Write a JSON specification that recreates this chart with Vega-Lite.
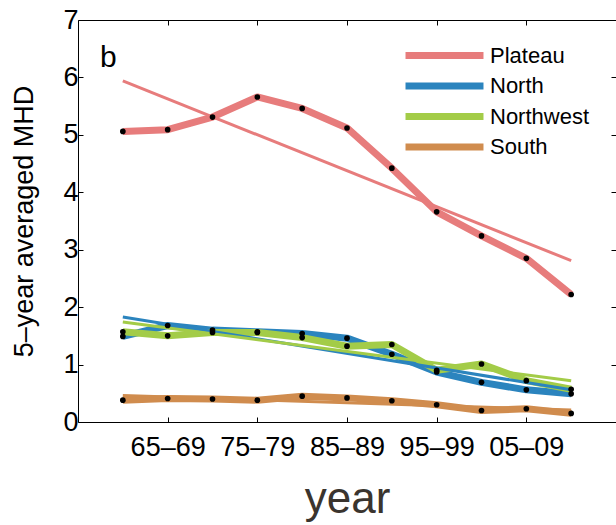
{
  "$schema": "https://vega.github.io/schema/vega-lite/v6.json",
  "width": 538,
  "height": 402,
  "autosize": {"type": "none"},
  "padding": {"left": 78, "top": 20, "right": 0, "bottom": 103},
  "background": "white",
  "config": {
    "view": {"stroke": null},
    "font": "Liberation Sans",
    "axis": {
      "domainColor": "black",
      "domainWidth": 1,
      "tickColor": "black",
      "tickSize": -5,
      "labelColor": "black",
      "labelFont": "Liberation Sans",
      "labelFontSize": 27,
      "grid": false
    }
  },
  "title": {
    "text": "b",
    "anchor": "start",
    "frame": "group",
    "orient": "top",
    "baseline": "alphabetic",
    "offset": -48,
    "dx": 22,
    "dy": 43,
    "fontSize": 30,
    "fontWeight": "normal",
    "font": "Liberation Sans",
    "color": "black"
  },
  "datasets": {
    "series": [
      {"period": "60–64", "region": "Plateau", "mhd": 5.06},
      {"period": "65–69", "region": "Plateau", "mhd": 5.09},
      {"period": "70–74", "region": "Plateau", "mhd": 5.31},
      {"period": "75–79", "region": "Plateau", "mhd": 5.66},
      {"period": "80–84", "region": "Plateau", "mhd": 5.46},
      {"period": "85–89", "region": "Plateau", "mhd": 5.12},
      {"period": "90–94", "region": "Plateau", "mhd": 4.42},
      {"period": "95–99", "region": "Plateau", "mhd": 3.66},
      {"period": "00–04", "region": "Plateau", "mhd": 3.24},
      {"period": "05–09", "region": "Plateau", "mhd": 2.85},
      {"period": "10–14", "region": "Plateau", "mhd": 2.22},
      {"period": "60–64", "region": "North", "mhd": 1.49},
      {"period": "65–69", "region": "North", "mhd": 1.68},
      {"period": "70–74", "region": "North", "mhd": 1.6},
      {"period": "75–79", "region": "North", "mhd": 1.57},
      {"period": "80–84", "region": "North", "mhd": 1.54},
      {"period": "85–89", "region": "North", "mhd": 1.46},
      {"period": "90–94", "region": "North", "mhd": 1.18},
      {"period": "95–99", "region": "North", "mhd": 0.87},
      {"period": "00–04", "region": "North", "mhd": 0.69},
      {"period": "05–09", "region": "North", "mhd": 0.56},
      {"period": "10–14", "region": "North", "mhd": 0.49},
      {"period": "60–64", "region": "Northwest", "mhd": 1.57},
      {"period": "65–69", "region": "Northwest", "mhd": 1.5},
      {"period": "70–74", "region": "Northwest", "mhd": 1.56},
      {"period": "75–79", "region": "Northwest", "mhd": 1.56},
      {"period": "80–84", "region": "Northwest", "mhd": 1.47},
      {"period": "85–89", "region": "Northwest", "mhd": 1.32},
      {"period": "90–94", "region": "Northwest", "mhd": 1.35},
      {"period": "95–99", "region": "Northwest", "mhd": 0.9},
      {"period": "00–04", "region": "Northwest", "mhd": 1.01},
      {"period": "05–09", "region": "Northwest", "mhd": 0.72},
      {"period": "10–14", "region": "Northwest", "mhd": 0.57},
      {"period": "60–64", "region": "South", "mhd": 0.38},
      {"period": "65–69", "region": "South", "mhd": 0.41},
      {"period": "70–74", "region": "South", "mhd": 0.4},
      {"period": "75–79", "region": "South", "mhd": 0.38},
      {"period": "80–84", "region": "South", "mhd": 0.45},
      {"period": "85–89", "region": "South", "mhd": 0.42},
      {"period": "90–94", "region": "South", "mhd": 0.37},
      {"period": "95–99", "region": "South", "mhd": 0.3},
      {"period": "00–04", "region": "South", "mhd": 0.2},
      {"period": "05–09", "region": "South", "mhd": 0.23},
      {"period": "10–14", "region": "South", "mhd": 0.15}
    ],
    "trend": [
      {"period": "60–64", "region": "Plateau", "mhd": 5.94},
      {"period": "10–14", "region": "Plateau", "mhd": 2.81},
      {"period": "60–64", "region": "North", "mhd": 1.83},
      {"period": "10–14", "region": "North", "mhd": 0.56},
      {"period": "60–64", "region": "Northwest", "mhd": 1.74},
      {"period": "10–14", "region": "Northwest", "mhd": 0.72},
      {"period": "60–64", "region": "South", "mhd": 0.46},
      {"period": "10–14", "region": "South", "mhd": 0.21}
    ]
  },
  "resolve": {"axis": {"x": "independent", "y": "independent"}},
  "layer": [
    {
      "data": {"name": "series"},
      "mark": {"type": "line", "strokeWidth": 7, "strokeJoin": "round"},
      "encoding": {
        "x": {
          "field": "period",
          "type": "ordinal",
          "scale": {
            "type": "point",
            "padding": 1,
            "domain": ["60–64", "65–69", "70–74", "75–79", "80–84", "85–89", "90–94", "95–99", "00–04", "05–09", "10–14"]
          },
          "axis": {
            "orient": "bottom",
            "values": ["65–69", "75–79", "85–89", "95–99", "05–09"],
            "labelAngle": 0,
            "labelPadding": 17,
            "title": "year",
            "titleFont": "Liberation Sans",
            "titleFontSize": 44,
            "titleFontWeight": "normal",
            "titleColor": "#3a342e",
            "titlePadding": 17
          }
        },
        "y": {
          "field": "mhd",
          "type": "quantitative",
          "scale": {"domain": [0, 7], "nice": false, "zero": true},
          "axis": {
            "orient": "left",
            "values": [0, 1, 2, 3, 4, 5, 6, 7],
            "labelPadding": 5,
            "title": "5–year averaged MHD",
            "titleFont": "Liberation Sans",
            "titleFontSize": 27,
            "titleFontWeight": "normal",
            "titleColor": "black",
            "titlePadding": 24
          }
        },
        "color": {
          "field": "region",
          "type": "nominal",
          "scale": {
            "domain": ["Plateau", "North", "Northwest", "South"],
            "range": ["#E77C7C", "#2B84BE", "#A3CC48", "#D08C4E"]
          },
          "legend": {
            "title": null,
            "orient": "none",
            "legendX": 353,
            "legendY": 22,
            "symbolType": "M-4,0H4",
            "symbolSize": 380,
            "symbolStrokeWidth": 7,
            "labelFont": "Liberation Sans",
            "labelFontSize": 22,
            "labelColor": "black",
            "labelOffset": 32,
            "rowPadding": 1.5,
            "padding": 0
          }
        }
      }
    },
    {
      "data": {"name": "trend"},
      "mark": {"type": "line", "strokeWidth": 3},
      "encoding": {
        "x": {"field": "period", "type": "ordinal", "axis": null},
        "y": {"field": "mhd", "type": "quantitative", "axis": null},
        "color": {"field": "region", "type": "nominal", "legend": null}
      }
    },
    {
      "data": {"name": "series"},
      "mark": {"type": "circle", "color": "black", "opacity": 1, "size": 32},
      "encoding": {
        "x": {
          "field": "period",
          "type": "ordinal",
          "axis": {"orient": "top", "domain": true, "values": ["65–69", "75–79", "85–89", "95–99", "05–09"], "labels": false, "title": null}
        },
        "y": {
          "field": "mhd",
          "type": "quantitative",
          "axis": {"orient": "right", "values": [0, 1, 2, 3, 4, 5, 6, 7], "labels": false, "domain": false, "title": null}
        }
      }
    }
  ]
}
